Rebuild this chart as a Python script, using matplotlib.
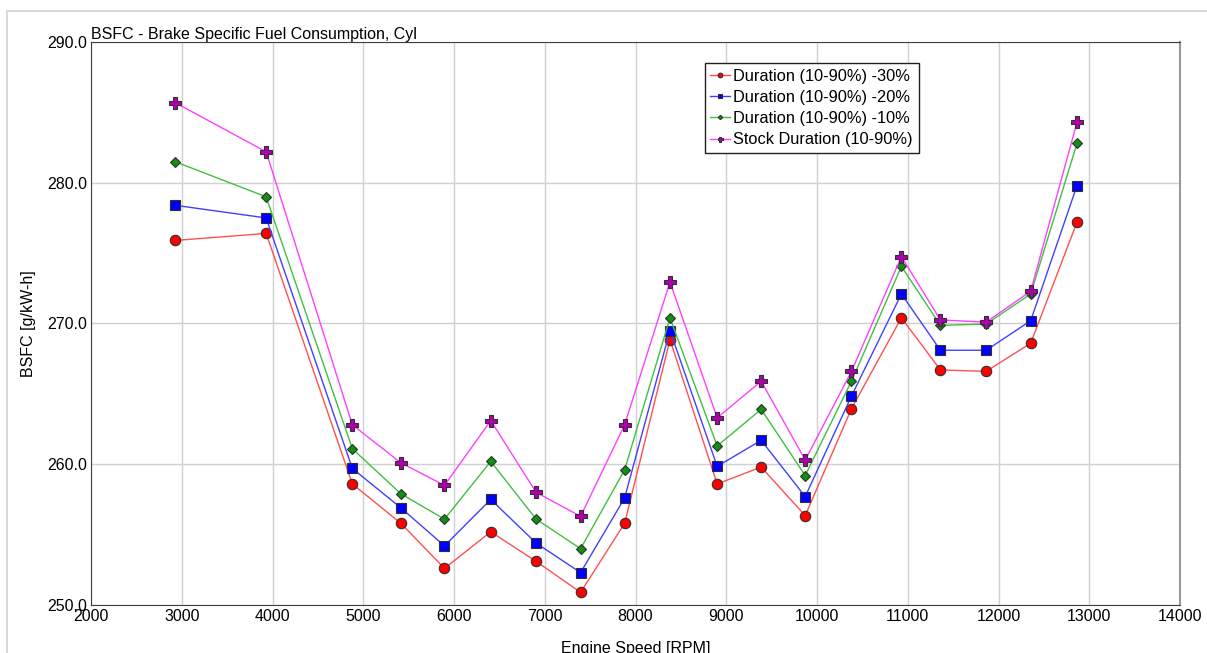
import numpy as np
import matplotlib
matplotlib.use('Agg')
import matplotlib.pyplot as plt
from matplotlib.ticker import FormatStrFormatter
from matplotlib.patches import Rectangle

plt.rcParams['font.family'] = ['Liberation Sans', 'DejaVu Sans']

# Engine speed points (RPM)
rpm = [2925, 3930, 4880, 5415, 5895, 6405, 6905, 7395, 7880, 8380,
       8900, 9385, 9870, 10380, 10930, 11360, 11865, 12355, 12865]

# BSFC values [g/kW-h]
bsfc_m30 = [275.9, 276.4, 258.6, 255.8, 252.6, 255.2, 253.1, 250.9, 255.8, 268.85,
            258.6, 259.8, 256.35, 263.95, 270.4, 266.7, 266.6, 268.6, 277.2]
bsfc_m20 = [278.4, 277.5, 259.7, 256.9, 254.2, 257.5, 254.4, 252.3, 257.6, 269.5,
            259.85, 261.7, 257.7, 264.85, 272.1, 268.1, 268.1, 270.2, 279.8]
bsfc_m10 = [281.5, 279.0, 261.1, 257.9, 256.1, 260.2, 256.1, 254.0, 259.6, 270.4,
            261.3, 263.9, 259.2, 265.9, 274.06, 269.87, 269.96, 272.1, 282.8]
bsfc_stock = [285.7, 282.2, 262.8, 260.1, 258.5, 263.1, 258.0, 256.3, 262.8, 272.95,
              263.3, 265.9, 260.3, 266.6, 274.75, 270.25, 270.1, 272.3, 284.3]

labels = ['Duration (10-90%) -30%', 'Duration (10-90%) -20%',
          'Duration (10-90%) -10%', 'Stock Duration (10-90%)']

fig = plt.figure(figsize=(12.07, 6.53), dpi=100)
ax = fig.add_axes([91 / 1207, 1 - 605 / 653, (1180 - 91) / 1207, (605 - 42) / 653])

# light frame around the chart
fig.patches.append(Rectangle((7 / 1207, -0.1), 1.2, 1 - 11 / 653 + 0.1,
                             transform=fig.transFigure, fill=False,
                             edgecolor='#d9d9d9', linewidth=1.5, zorder=0))

series = [
    (bsfc_m30, '#ff5050', 'o', '#ff0000', 7.5),
    (bsfc_m20, '#4040ff', 's', '#0000ff', 7.5),
    (bsfc_m10, '#40c040', 'D', '#109010', 5),
    (bsfc_stock, '#ff40ff', 'P', '#b000b0', 8),
]

handles = []
for (vals, lc, mk, mfc, ms), lab in zip(series, labels):
    h, = ax.plot(rpm, vals, color=lc, linewidth=1.0, marker=mk, markersize=ms,
                 markerfacecolor=mfc, markeredgecolor='#303030', markeredgewidth=0.8,
                 label=lab, zorder=3)
    handles.append(h)

ax.set_xlim(2000, 14000)
ax.set_ylim(250, 290)
ax.set_xticks(np.arange(2000, 14001, 1000))
ax.set_yticks(np.arange(250, 291, 10))
ax.yaxis.set_major_formatter(FormatStrFormatter('%.1f'))
ax.tick_params(length=0, labelsize=11.5, colors='black', pad=3)
ax.grid(True, color='#d0d0d0', linewidth=1)
ax.set_axisbelow(True)

for s in ['left', 'bottom', 'top']:
    ax.spines[s].set_color('#404040')
ax.spines['right'].set_color('#999999')
ax.spines['right'].set_linewidth(1.5)

ax.set_title('BSFC - Brake Specific Fuel Consumption, Cyl', loc='left',
             fontsize=11.5, pad=1)
ax.set_xlabel('Engine Speed [RPM]', fontsize=11.5, labelpad=12)
ax.set_ylabel('BSFC [g/kW-h]', fontsize=11.5, labelpad=8)

leg = ax.legend(handles=handles, loc='upper left', bbox_to_anchor=(0.5635, 0.963),
                fontsize=11.8, markerscale=0.45, handlelength=1.2, handletextpad=0.2,
                borderpad=0.35, labelspacing=0.38, fancybox=False, framealpha=1,
                edgecolor='#202020', borderaxespad=0)
leg.get_frame().set_linewidth(1.0)

fig.savefig('out.png', dpi=100)
